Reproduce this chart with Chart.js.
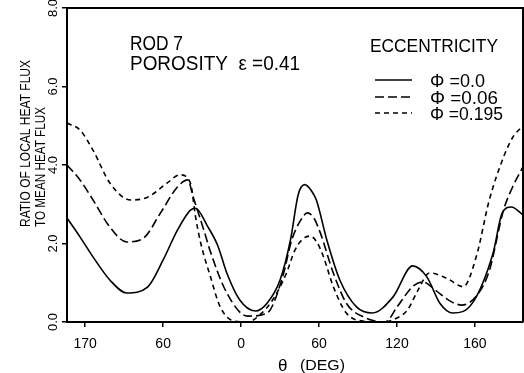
<!DOCTYPE html>
<html>
<head>
<meta charset="utf-8">
<script src="https://cdn.jsdelivr.net/npm/chart.js@4/dist/chart.umd.min.js"></script>
<style>
  html, body { margin: 0; padding: 0; background: #fff; }
  canvas { display: block; }
</style>
</head>
<body>
<canvas id="chart1" width="524" height="373"></canvas>
<script>
// values (theta in degrees, flux ratio)
const thetaPhi0 = [-134, -124, -114, -101, -88, -72, -60, -49, -39, -35, -26, -18, -11, -1, 11, 20, 30, 38, 44, 49, 54, 58, 66, 76, 89, 101, 117, 132, 143, 153, 163, 178, 194, 201, 208, 217];
const fluxPhi0  = [2.65, 2.17, 1.66, 1.07, 0.74, 0.89, 1.58, 2.34, 2.85, 2.90, 2.45, 1.95, 1.25, 0.56, 0.28, 0.48, 1.07, 2.09, 3.25, 3.50, 3.35, 3.10, 2.09, 1.07, 0.38, 0.23, 0.64, 1.43, 1.15, 0.48, 0.23, 0.48, 1.76, 2.78, 2.93, 2.73];

const thetaPhi006 = [-134, -124, -114, -101, -88, -75, -62, -49, -41, -37, -28, -24, -11, 5, 20, 32, 39, 46, 51, 56, 61, 71, 81, 94, 111, 120, 132, 140, 150, 160, 170, 182, 191, 202, 209, 217];
const fluxPhi006  = [4.00, 3.62, 3.11, 2.42, 2.04, 2.14, 2.78, 3.44, 3.62, 3.20, 2.27, 1.83, 0.74, 0.15, 0.23, 1.15, 2.09, 2.60, 2.78, 2.65, 2.27, 1.25, 0.48, 0.13, 0.00, 0.38, 0.90, 1.02, 0.80, 0.55, 0.43, 0.70, 1.30, 2.85, 3.44, 3.95];

const thetaPhi0195 = [-134, -124, -114, -101, -85, -72, -57, -47, -39, -35, -31, -24, -16, -5, 5, 15, 25, 35, 41, 47, 53, 58, 63, 71, 81, 95, 110, 120, 128, 136, 145, 158, 171, 181, 191, 202, 209, 217];
const fluxPhi0195  = [5.07, 4.89, 4.38, 3.54, 3.11, 3.18, 3.54, 3.75, 3.54, 2.67, 2.00, 1.20, 0.38, 0.02, 0.00, 0.20, 0.60, 1.25, 1.80, 2.10, 2.19, 2.05, 1.70, 0.90, 0.23, 0.02, 0.00, 0.10, 0.30, 0.80, 1.25, 1.12, 0.90, 1.66, 3.10, 4.20, 4.70, 5.00];

const xTickValues = [-120, -60, 0, 60, 120, 180];
const xTickLabels = ['170', '60', '0', '60', '120', '160'];
const legendLabels = ['\u03A6 =0.0', '\u03A6 =0.06', '\u03A6 =0.195'];
const lineDashes = [[], [9, 4], [5, 4]];

const FONT = '"Liberation Sans", "DejaVu Sans", sans-serif';

function toPoints(xs, ys) {
    return xs.map((x, i) => ({ x: x, y: ys[i] }));
}

const series = [
    toPoints(thetaPhi0, fluxPhi0),
    toPoints(thetaPhi006, fluxPhi006),
    toPoints(thetaPhi0195, fluxPhi0195)
];

// the lettering on the scan is narrow, so squeeze text to the width it takes there
function fitText(c, text, x, y, width, size) {
    c.font = size + 'px ' + FONT;
    const w = c.measureText(text).width;
    c.save();
    c.translate(x, y);
    c.scale(width / w, 1);
    c.fillText(text, 0, 0);
    c.restore();
}

// frame, axis titles and annotation text
const annotations = {
    id: 'annotations',
    afterDraw(chart) {
        const c = chart.ctx;
        const a = chart.chartArea;
        c.save();
        c.strokeStyle = '#000';
        c.lineWidth = 2;
        c.beginPath();
        c.moveTo(a.left, a.top);
        c.lineTo(a.right, a.top);
        c.lineTo(a.right, a.bottom);
        c.stroke();

        c.fillStyle = '#000';
        c.textBaseline = 'alphabetic';
        c.textAlign = 'left';
        fitText(c, 'ROD 7', 130, 50, 53, 20);
        fitText(c, 'POROSITY  \u03B5 =0.41', 130, 70, 170, 20);
        fitText(c, 'ECCENTRICITY', 370, 52, 128, 19);

        const rows = [87, 104, 120];
        const widths = [55, 68, 73];
        legendLabels.forEach((lab, i) => {
            c.setLineDash(lineDashes[i]);
            c.lineWidth = 1.5;
            c.beginPath();
            c.moveTo(375, rows[i] - 7);
            c.lineTo(412, rows[i] - 7);
            c.stroke();
            c.setLineDash([]);
            fitText(c, lab, 430, rows[i], widths[i], 18);
        });

        // x title
        c.font = '17px ' + FONT;
        c.fillText('\u03B8', 278, 371);
        fitText(c, '(DEG)', 300, 370, 45, 15);

        // y title, two rotated lines starting at the same height
        c.save();
        c.translate(0, 227);
        c.rotate(-Math.PI / 2);
        fitText(c, 'RATIO OF LOCAL HEAT FLUX', 0, 30, 167, 15);
        fitText(c, 'TO MEAN HEAT FLUX', 0, 45, 120, 15);
        c.restore();
        c.restore();
    }
};

const ctx1 = document.getElementById('chart1').getContext('2d');

const chart1 = new Chart(ctx1, {
    type: 'line',
    data: {
        datasets: series.map((pts, i) => ({
            label: legendLabels[i],
            data: pts,
            borderColor: '#000',
            borderWidth: 1.6,
            borderDash: lineDashes[i],
            pointRadius: 0,
            cubicInterpolationMode: 'monotone',
            fill: false
        }))
    },
    options: {
        responsive: false,
        animation: false,
        layout: { padding: { top: 8, right: 1, left: 0, bottom: 0 } },
        plugins: {
            legend: { display: false },
            tooltip: { enabled: false }
        },
        scales: {
            x: {
                type: 'linear',
                min: -134,
                max: 217,
                afterBuildTicks: (s) => { s.ticks = xTickValues.map(v => ({ value: v })); },
                afterFit: (s) => { s.height = 51; },
                border: { color: '#000', width: 2 },
                grid: { drawOnChartArea: false, color: '#000', tickLength: 5, lineWidth: 1.5 },
                ticks: {
                    color: '#000',
                    font: { family: FONT, size: 14 },
                    padding: 9,
                    maxRotation: 0,
                    callback: (v) => {
                        const i = xTickValues.indexOf(v);
                        return i >= 0 ? xTickLabels[i] : '';
                    }
                }
            },
            y: {
                min: 0,
                max: 8,
                afterFit: (s) => { s.width = 67; },
                border: { color: '#000', width: 2 },
                grid: { drawOnChartArea: false, color: '#000', tickLength: 5, lineWidth: 1.5 },
                ticks: {
                    stepSize: 2,
                    color: '#000',
                    font: { family: FONT, size: 13 },
                    minRotation: 90,
                    maxRotation: 90,
                    crossAlign: 'center',
                    padding: 0,
                    callback: (v) => v.toFixed(1)
                }
            }
        }
    },
    plugins: [annotations]
});
</script>
</body>
</html>
